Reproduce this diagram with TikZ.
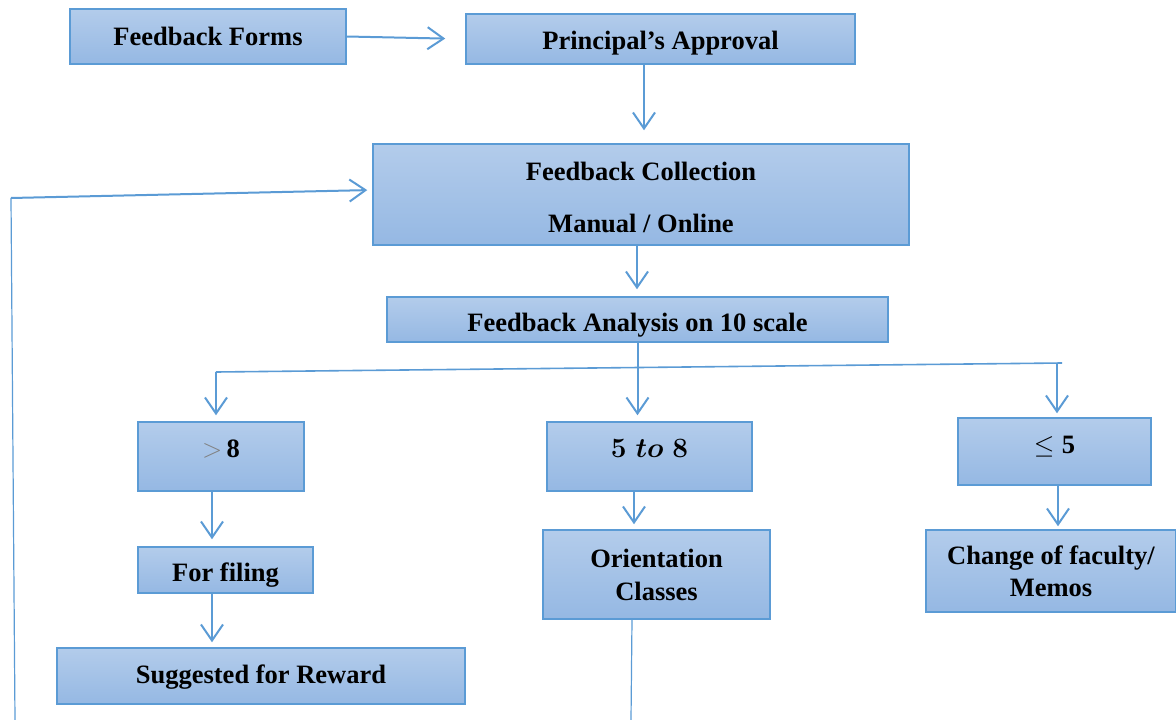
\RequirePackage{fix-cm}
\documentclass[tikz,border=0pt]{standalone}
\usepackage{fontspec}
\setmainfont{Liberation Serif}
\usetikzlibrary{arrows.meta}
\definecolor{boxtop}{HTML}{B3CCEB}
\definecolor{boxbot}{HTML}{95B8E3}
\definecolor{edge}{HTML}{5B9BD5}
\newcommand\myvshift[2]{\raisebox{#1}[\height][\depth]{#2}}
\begin{document}
\begin{tikzpicture}[x=1pt,y=-1pt,
  box/.style={draw=edge, line width=1.5pt, top color=boxtop, bottom color=boxbot,
    inner sep=0pt, align=center, font=\fontsize{26.5}{32}\selectfont\bfseries},
  conn/.style={draw=edge, line width=2pt, -{Straight Barb[length=16pt,width=22pt,line width=2pt]}},
  branch/.style={draw=edge, line width=1.6pt},
  thinline/.style={draw=edge, line width=1.2pt}]
\useasboundingbox (0,0) rectangle (1176,720);

% boxes
\node[box, minimum width=276pt, minimum height=55pt] (ff) at (208,36.5) {\myvshift{0.5pt}{Feedback Forms}};
\node[box, minimum width=389pt, minimum height=50pt] (pa) at (660.5,39) {\myvshift{-4pt}{Principal’s Approval}};
\node[box, minimum width=536pt, minimum height=101pt,
  font=\fontsize{26.5}{52}\selectfont\bfseries] (fc) at (641,194.5) {\myvshift{-2.5pt}{Feedback Collection}\\\myvshift{-2.5pt}{Manual / Online}};
\node[box, minimum width=501pt, minimum height=45pt] (fa) at (637.5,319.5) {\myvshift{-6pt}{Feedback Analysis on 10 scale}};
\node[box, minimum width=166pt, minimum height=69pt] (g8) at (221,456.5) {\myvshift{7.5pt}{{\color{gray}\mdseries$>$}\,8}};
\node[box, minimum width=205pt, minimum height=69pt,
  font=\fontsize{28}{32}\selectfont\bfseries] (m58) at (649.5,456.5) {\myvshift{8.5pt}{\boldmath$5\;to\;8$}};
\node[box, minimum width=193pt, minimum height=67pt] (l5) at (1054.5,451.5) {\myvshift{5pt}{$\leq\mathbf{5}$}};
\node[box, minimum width=175pt, minimum height=46pt] (ffil) at (225.5,570) {\myvshift{-5pt}{For filing}};
\node[box, minimum width=227pt, minimum height=89pt,
  font=\fontsize{26.5}{33}\selectfont\bfseries] (oc) at (656.5,574.5) {Orientation\\Classes};
\node[box, minimum width=250pt, minimum height=82pt,
  font=\fontsize{26.5}{32}\selectfont\bfseries] (cf) at (1051,571) {Change of faculty/\\Memos};
\node[box, minimum width=408pt, minimum height=56pt] (sr) at (261,676) {\myvshift{-1pt}{Suggested for Reward}};

% helper coordinates
\coordinate (x644) at (644,0);
\coordinate (x637) at (637,0);
\coordinate (x212) at (212,0);
\coordinate (x634) at (634,0);
\coordinate (x1058) at (1058,0);
\coordinate (x632) at (632,0);
\coordinate (looptop) at (11,198);
\coordinate (loopbot) at (15,720);
\coordinate (bl) at (216,372);
\coordinate (br) at (1062,363);
\coordinate (brv) at (1057,363.5);
\coordinate (ocend) at (631,720);

% connectors
\draw[conn, shorten >=20pt] (ff.east) -- (pa.west);
\draw[conn, shorten >=13pt] (pa.south -| x644) -- (fc.north -| x644);
\draw[thinline] (loopbot) -- (looptop);
\draw[conn, shorten >=5pt] (looptop) -- ([yshift=4.5pt]fc.west);
\draw[conn, shorten >=7pt] (fc.south -| x637) -- (fa.north -| x637);
\draw[conn, shorten >=6pt] (fa.south) -- (fa.south |- m58.north);
\draw[branch] (bl) -- (br);
\draw[conn, shorten >=6pt] (bl) -- (bl |- g8.north);
\draw[conn, shorten >=4pt] (brv) -- (brv |- l5.north);
\draw[conn, shorten >=7pt] (g8.south -| x212) -- (ffil.north -| x212);
\draw[conn, shorten >=5pt] (m58.south -| x634) -- (oc.north -| x634);
\draw[conn, shorten >=3pt] (l5.south -| x1058) -- (cf.north -| x1058);
\draw[conn, shorten >=5pt] (ffil.south -| x212) -- (sr.north -| x212);
\draw[thinline] (oc.south -| x632) -- (ocend);
\end{tikzpicture}
\end{document}
